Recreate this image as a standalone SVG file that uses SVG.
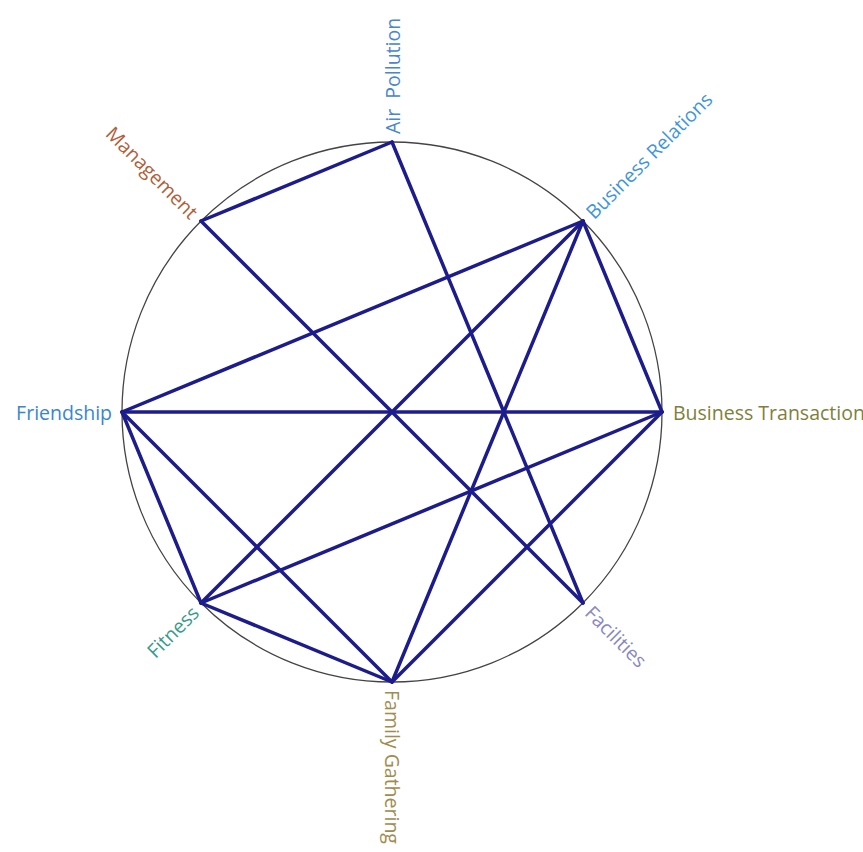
<svg xmlns="http://www.w3.org/2000/svg" width="863" height="852" viewBox="0 0 863 852">
<style>
.edge{stroke:#1c1c8c;stroke-width:3.5;stroke-linecap:round;fill:none}
.lbl{font-family:"Open Sans","Noto Sans",sans-serif;font-size:19.5px;dominant-baseline:central}
</style>
<rect width="863" height="852" fill="#fff"/>
<circle cx="392" cy="412" r="270" fill="none" stroke="#444" stroke-width="1.3"/>
<g id="connectors">
<line class="edge" x1="392" y1="142" x2="201" y2="221"/>
<line class="edge" x1="392" y1="142" x2="583" y2="603"/>
<line class="edge" x1="201" y1="221" x2="583" y2="603"/>
<line class="edge" x1="583" y1="221" x2="122" y2="412"/>
<line class="edge" x1="583" y1="221" x2="201" y2="603"/>
<line class="edge" x1="583" y1="221" x2="392" y2="682"/>
<line class="edge" x1="583" y1="221" x2="662" y2="412"/>
<line class="edge" x1="122" y1="412" x2="662" y2="412"/>
<line class="edge" x1="122" y1="412" x2="201" y2="603"/>
<line class="edge" x1="122" y1="412" x2="392" y2="682"/>
<line class="edge" x1="662" y1="412" x2="201" y2="603"/>
<line class="edge" x1="662" y1="412" x2="392" y2="682"/>
<line class="edge" x1="201" y1="603" x2="392" y2="682"/>
</g>
<g id="air-pollution"><text class="lbl" fill="#4a86cc" transform="translate(392,134) rotate(-90)" xml:space="preserve">Air  Pollution</text></g>
<g id="business-relations"><text class="lbl" fill="#3f96d6" transform="translate(589,215) rotate(-45)">Business Relations</text></g>
<g id="business-transaction"><text class="lbl" fill="#7f7f3a" transform="translate(673,412)">Business Transaction</text></g>
<g id="facilities"><text class="lbl" fill="#8a88c0" transform="translate(589,609) rotate(45)">Facilities</text></g>
<g id="family-gathering"><text class="lbl" fill="#a08c4e" transform="translate(392,690) rotate(90)">Family Gathering</text></g>
<g id="fitness"><text class="lbl" fill="#3a9a8a" text-anchor="end" transform="translate(195,609) rotate(-45)">Fitness</text></g>
<g id="friendship"><text class="lbl" fill="#3a86cc" text-anchor="end" transform="translate(112,412)">Friendship</text></g>
<g id="management"><text class="lbl" fill="#b0603a" text-anchor="end" transform="translate(195,215) rotate(45)">Management</text></g>
</svg>
